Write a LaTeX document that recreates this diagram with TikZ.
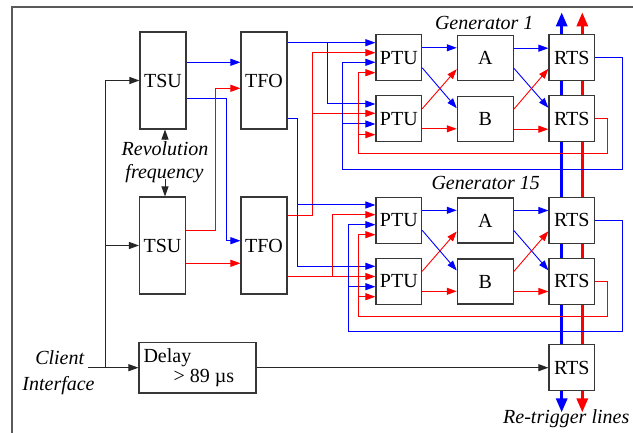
\documentclass[tikz,border=0pt]{standalone}
\usepackage{fontspec}
\setmainfont{Liberation Serif}
\usetikzlibrary{arrows.meta,calc}
\definecolor{frm}{RGB}{90,90,90}
\definecolor{bdr}{RGB}{55,55,55}
\definecolor{bl}{RGB}{0,0,255}
\definecolor{rd}{RGB}{255,0,0}
\pgfdeclarelayer{bg}
\pgfsetlayers{bg,main}
\begin{document}
\begin{tikzpicture}[x=1pt,y=-1pt,
  every node/.style={font=\fontsize{20}{24}\selectfont, inner sep=0pt},
  lbl/.style={font=\fontsize{20}{24}\selectfont\itshape},
  tall/.style={draw=bdr, line width=1.1pt, fill=white, minimum width=46pt, minimum height=97pt},
  sq/.style={draw=bdr, line width=1.1pt, fill=white, minimum width=45.7pt, minimum height=45.7pt},
  ab/.style={draw=bdr, line width=1.1pt, fill=white, minimum width=56pt, minimum height=45pt},
  dbox/.style={draw=bdr, line width=1.1pt, fill=white, minimum width=117pt, minimum height=50.7pt},
  arr/.style={-{Triangle[length=10pt,width=7pt]}},
  bigarr/.style={{Triangle[length=14pt,width=11pt]}-{Triangle[length=14pt,width=11pt]}},
  blk/.style={draw=black!85, line width=1pt},
  bln/.style={draw=bl, line width=1pt},
  rdn/.style={draw=rd, line width=1pt},
  diag/.style={line width=0.9pt},
  thk/.style={line width=3pt}
]
\begin{pgfonlayer}{bg}
\fill[white] (0,0) rectangle (633,433);
\end{pgfonlayer}
\useasboundingbox (0,0) rectangle (633,433);
\draw[draw=frm, line width=1.5pt] (12,433) -- (12,7) -- (633,7);

% boxes
\node[tall] (TSU1) at (163,80.5) {TSU};
\node[tall] (TFO1) at (264,80.5) {TFO};
\node[tall] (TSU2) at (162.5,245.5) {TSU};
\node[tall] (TFO2) at (264,245.5) {TFO};
\node[dbox] (DL) at (197.5,367.7) {};
\node[anchor=base west] (dl1) at (143.3,362.7) {Delay};
\node[anchor=base west] (dl2) at (173.3,382.7) {> 89 µs};

\node[sq] (P1) at (398.8,57.8) {PTU};
\node[sq] (P2) at (398.8,118.8) {PTU};
\node[ab] (A1) at (485.3,58.2) {A};
\node[ab] (B1) at (485.3,119.2) {B};
\node[sq] (R1) at (571.8,57.8) {RTS};
\node[sq] (R2) at (571.8,118.8) {RTS};
\node[sq] (P3) at (398.8,220.3) {PTU};
\node[sq] (P4) at (398.8,281.3) {PTU};
\node[ab] (A2) at (485.3,220.5) {A};
\node[ab] (B2) at (485.3,281.5) {B};
\node[sq] (R3) at (571.8,220.3) {RTS};
\node[sq] (R4) at (571.8,281.3) {RTS};
\node[sq] (R5) at (571.8,367.5) {RTS};

% labels
\node[lbl,anchor=base] (rev1) at (165,155.3) {Revolution};
\node[lbl,anchor=base] (rev2) at (164.5,179) {frequency};
\node[lbl,anchor=base] (cl1) at (59.7,365) {Client};
\node[lbl,anchor=base] (cl2) at (58.5,390) {Interface};
\node[lbl,anchor=base] (g1) at (484.2,29.3) {Generator 1};
\node[lbl,anchor=base] (g15) at (485.7,189.3) {Generator 15};
\node[lbl,anchor=base west] (rtl) at (503,424) {Re-trigger lines};

% re-trigger lines
\begin{pgfonlayer}{bg}
\draw[thk, draw=bl, bigarr] ($(R1.north)+(-10.1,-22)$) -- ($(R5.south)+(-10.1,21.5)$);
\draw[thk, draw=rd, bigarr] ($(R1.north)+(10.5,-22)$) -- ($(R5.south)+(10.5,21.5)$);
\end{pgfonlayer}

% black connectors
\coordinate (ci) at (88.3,367.7);
\draw[blk,arr] (ci) -- (DL.west);
\draw[blk,arr] (105,367.7) |- (TSU1.west);
\draw[blk,arr] (105,245.5) -- (TSU2.west);
\draw[blk,arr] (DL.east) -- (DL.east -| R5.west);
\draw[blk,arr] ([yshift=1.5pt]rev1.north) -- (rev1.north |- TSU1.south);
\draw[blk,arr] (rev1.north |- rev2.base) -- (rev1.north |- TSU2.north);

% TSU -> TFO
\draw[bln,arr] (TSU1.east|-0,62.3) -- (TFO1.west|-0,62.3);
\draw[bln,arr] (TSU1.east|-0,98.7) -| (226,240.7) -- (TFO2.west|-0,240.7);
\draw[rdn,arr] (TSU2.east|-0,230.3) -| (215.7,88.3) -- (TFO1.west|-0,88.3);
\draw[rdn,arr] (TSU2.east|-0,263.3) -- (TFO2.west|-0,263.3);

% TFO -> PTU, generator 1
\draw[bln,arr] (TFO1.east|-0,42.7) -- (P1.west|-0,42.7);
\draw[bln,arr] (327,42.7) |- (P2.west|-0,104);
\draw[rdn,arr] (TFO2.east|-0,215.3) -| (312.7,52.7) -- (P1.west|-0,52.7);
\draw[rdn,arr] (312.7,113.3) -- (P2.west|-0,113.3);
\draw[bln,arr] (R1.east) -| (622.7,169.3) -| (342.7,62.3) -- (P1.west|-0,62.3);
\draw[bln,arr] (342.7,124) -- (P2.west|-0,124);
\draw[rdn,arr] (R2.east) -| (607,154) -| (358.3,72.7) -- (P1.west|-0,72.7);
\draw[rdn,arr] (358.3,134.7) -- (P2.west|-0,134.7);

% TFO -> PTU, generator 15
\draw[bln,arr] (TFO1.east|-0,119) -| (297,266.3) -- (P4.west|-0,266.3);
\draw[bln,arr] (297,205) -- (P3.west|-0,205);
\draw[rdn,arr] (TFO2.east|-0,276.5) -- (P4.west|-0,276.5);
\draw[rdn,arr] (332.3,276.5) |- (P3.west|-0,214.7);
\draw[bln,arr] (R3.east) -| (622.7,332) -| (348.3,224.7) -- (P3.west|-0,224.7);
\draw[bln,arr] (348.3,286.7) -- (P4.west|-0,286.7);
\draw[rdn,arr] (R4.east) -| (607,316.7) -| (358.7,234.7) -- (P3.west|-0,234.7);
\draw[rdn,arr] (358.7,296.7) -- (P4.west|-0,296.7);

% inside generators
\foreach \p/\q/\a/\b/\r/\s in {P1/P2/A1/B1/R1/R2, P3/P4/A2/B2/R3/R4} {
  \draw[bln,arr] ([yshift=10pt]\p.east) -- ([yshift=10pt]\p.east -| \a.west);
  \draw[bln,diag,arr] ([yshift=-10pt]\p.east) -- ([yshift=11pt]\b.west);
  \draw[rdn,diag,arr] ([yshift=10pt]\q.east) -- ([yshift=-11pt]\a.west);
  \draw[rdn,arr] ([yshift=-10pt]\q.east) -- ([yshift=-10pt]\q.east -| \b.west);
  \draw[bln,arr] ([yshift=10pt]\a.east) -- ([yshift=10pt]\a.east -| \r.west);
  \draw[bln,diag,arr] ([yshift=-10pt]\a.east) -- ([yshift=11pt]\s.west);
  \draw[rdn,diag,arr] ([yshift=10pt]\b.east) -- ([yshift=-11pt]\r.west);
  \draw[rdn,arr] ([yshift=-10pt]\b.east) -- ([yshift=-10pt]\b.east -| \s.west);
}
\end{tikzpicture}
\end{document}
